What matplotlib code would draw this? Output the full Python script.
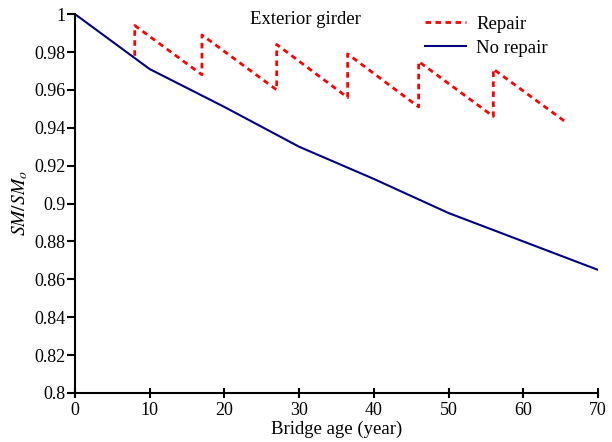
import matplotlib
matplotlib.use("Agg")
import matplotlib.pyplot as plt

plt.rcParams['font.family'] = ['Liberation Serif', 'DejaVu Serif']
plt.rcParams['mathtext.fontset'] = 'stix'

# Data
age_norepair = [0, 10, 20, 30, 40, 50, 60, 70]
sm_norepair = [1.0, 0.971, 0.951, 0.930, 0.913, 0.895, 0.880, 0.865]

age_repair = [8, 8, 17, 17, 27, 27, 36.5, 36.5, 46, 46, 56, 56, 65.7]
sm_repair = [0.978, 0.994, 0.968, 0.989, 0.960, 0.984, 0.956, 0.979,
             0.951, 0.975, 0.946, 0.971, 0.943]

xticks = [0, 10, 20, 30, 40, 50, 60, 70]
yticks = [0.8, 0.82, 0.84, 0.86, 0.88, 0.9, 0.92, 0.94, 0.96, 0.98, 1.0]

fig = plt.figure(figsize=(6.12, 4.42), dpi=100)
ax = fig.add_axes([0.1225, 0.111, 0.8545, 0.857])

ax.plot(age_repair, sm_repair, color='#ff0000', lw=2.0, ls=(0, (2, 1.6)), label='Repair')
ax.plot(age_norepair, sm_norepair, color='#000080', lw=1.5, label='No repair')

ax.set_xlim(0, 70)
ax.set_ylim(0.8, 1.0)
ax.set_xticks(xticks)
ax.set_xticklabels([f'{v:g}' for v in xticks])
ax.set_yticks(yticks)
ax.set_yticklabels([f'{v:g}' for v in yticks])

for s in ['top', 'right']:
    ax.spines[s].set_visible(False)
for s in ['left', 'bottom']:
    ax.spines[s].set_linewidth(1.5)

ax.tick_params(axis='x', direction='inout', length=7, width=1.5, labelsize=13, pad=3)
ax.tick_params(axis='y', direction='out', length=6, width=1.5, labelsize=13, pad=1)

ax.set_xlabel('Bridge age (year)', fontsize=13.5, labelpad=1)
ax.set_ylabel('$SM/SM_o$', fontsize=14, labelpad=3)

ax.text(0.335, 0.985, 'Exterior girder', transform=ax.transAxes,
        fontsize=13.5, ha='left', va='center')

ax.legend(loc='upper left', bbox_to_anchor=(0.669, 0.996), frameon=False,
          fontsize=13.5, handlelength=2.2, handletextpad=0.55,
          borderpad=0, borderaxespad=0, labelspacing=0.36)

fig.savefig('out.png', dpi=100)
